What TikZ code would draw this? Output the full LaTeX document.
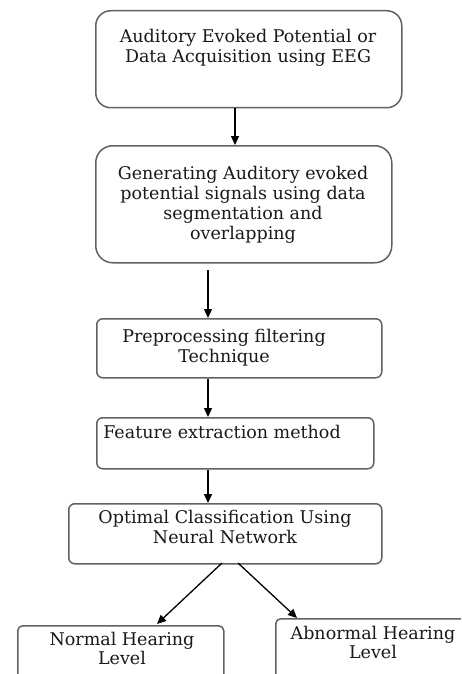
\documentclass[tikz,border=0pt]{standalone}
\usepackage{fontspec}
\setmainfont{DejaVu Serif}
\usetikzlibrary{arrows.meta,calc}
\begin{document}
\begin{tikzpicture}[x=1pt,y=-1pt,
  box/.style={draw=black!62, line width=1.5pt, anchor=north west, inner sep=0pt},
  txt/.style={font=\fontsize{17.5}{20}\selectfont, align=center, anchor=base, inner sep=0pt, text=black!90},
  tight/.style={font=\fontsize{17.5}{17}\selectfont},
  flow/.style={draw=black, line width=1.3pt, -{Triangle[length=9pt,width=8pt]}}]
\useasboundingbox (0,0) rectangle (461,674);
\clip (0,0) rectangle (461,674);
\fill[white] (0,0) rectangle (461,674);

% process boxes
\node[box, rounded corners=15pt, minimum width=306pt, minimum height=97pt] (b1) at (95,10) {};
\node[box, rounded corners=17pt, minimum width=296pt, minimum height=117pt] (b2) at (95,145) {};
\node[box, rounded corners=6pt, minimum width=285pt, minimum height=59pt] (b3) at (96,318) {};
\node[box, rounded corners=6pt, minimum width=277pt, minimum height=51pt] (b4) at (96,417) {};
\node[box, rounded corners=6pt, minimum width=313pt, minimum height=60pt] (b5) at (68,503) {};
\node[box, rounded corners=5pt, minimum width=206pt, minimum height=80pt] (b6) at (17,625) {};
\node[box, rounded corners=5pt, minimum width=220pt, minimum height=90pt] (b7) at (275,618) {};

% labels (base anchor sits on the last line)
\node[txt] (t1) at (248,63) {Auditory Evoked Potential or\\Data Acquisition using EEG};
\node[txt] (t2) at (243,239) {Generating Auditory evoked\\potential signals using data\\segmentation and\\overlapping};
\node[txt] (t3) at (224,362) {Preprocessing filtering\\Technique};
\node[txt] (t4) at (222,438) {Feature extraction method};
\node[txt] (t5) at (225,543) {Optimal Classification Using\\Neural Network};
\node[txt, tight] (t6) at (122,664) {Normal Hearing\\Level};
\node[txt, tight] (t7) at (373,658) {Abnormal Hearing\\Level};

% connectors
\draw[flow] (235,0 |- b1.south) -- (235,0 |- b2.north);
\draw[flow] (208,270) -- (208,0 |- b3.north);
\draw[flow] (208,0 |- b3.south) -- (208,0 |- b4.north);
\draw[flow] (208,0 |- b4.south) -- (208,0 |- b5.north);
\coordinate (s1) at (222,563);
\coordinate (s2) at (238,563);
\draw[flow] (s1) -- (157,624);
\draw[flow] (s2) -- (297,618);
\end{tikzpicture}
\end{document}
